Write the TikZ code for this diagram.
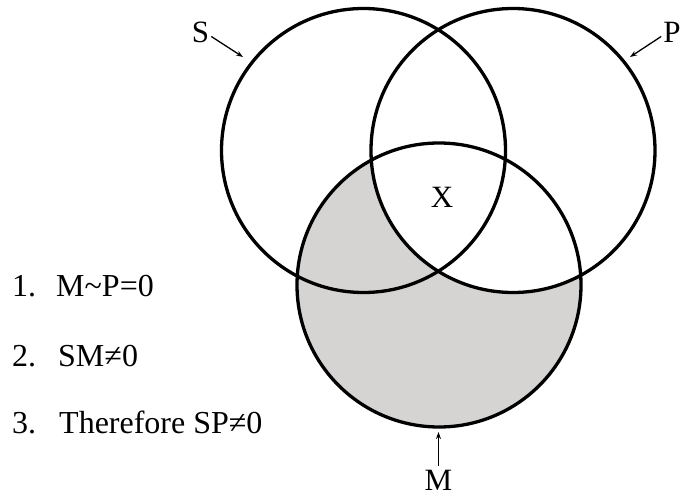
\documentclass[tikz,border=0pt]{standalone}
\usepackage{fontspec}
\setmainfont{Liberation Serif}
\usetikzlibrary{arrows.meta}
\definecolor{shadegray}{RGB}{214,211,211}
\begin{document}
\begin{tikzpicture}[x=1pt,y=-1pt,
  ring/.style={draw=black,line width=3.3pt},
  lbl/.style={font=\fontsize{31}{36}\selectfont,inner sep=0pt},
  txt/.style={font=\fontsize{32}{38}\selectfont,inner sep=0pt,anchor=base west},
  pointer/.style={line width=1.3pt,-{Stealth[length=7pt,width=5pt]}}]
\useasboundingbox (0,0) rectangle (681,497);
\coordinate (cS) at (363.5,150.5);
\coordinate (cP) at (513,150.5);
\coordinate (cM) at (439,285);
% shading: M outside P
\begin{scope}
  \clip (cM) circle (142pt);
  \fill[shadegray,even odd rule] (cM) circle (142pt) (cP) circle (142pt);
\end{scope}
\draw[ring] (cS) circle (142pt);
\draw[ring] (cP) circle (142pt);
\draw[ring] (cM) circle (142pt);
% labels
\node[lbl] (lS) at (200.5,32.5) {S};
\node[lbl] (lP) at (672,32.5) {P};
\node[lbl] (lM) at (438.5,480) {M};
\node[lbl] (lX) at (442,197) {X};
\coordinate (tS) at (243,57);
\coordinate (tP) at (630,57);
\coordinate (tM) at (438.5,432);
\draw[pointer] (lS.east) ++(2,4) coordinate (sS) -- (tS);
\draw[pointer] (lP.west) ++(-2,4) coordinate (sP) -- (tP);
\draw[pointer] (lM.north) ++(0,-4) coordinate (sM) -- (tM);
% statements
\node[txt] (n1) at (12,297) {1.};
\node[txt] (n2) at (12,367) {2.};
\node[txt] (n3) at (12,434) {3.};
\node[txt] (s1) at (56,297) {M\textasciitilde P=0};
\node[txt] (s2) at (58,367) {SM≠0};
\node[txt] (s3) at (59,434) {Therefore SP≠0};
\end{tikzpicture}
\end{document}
